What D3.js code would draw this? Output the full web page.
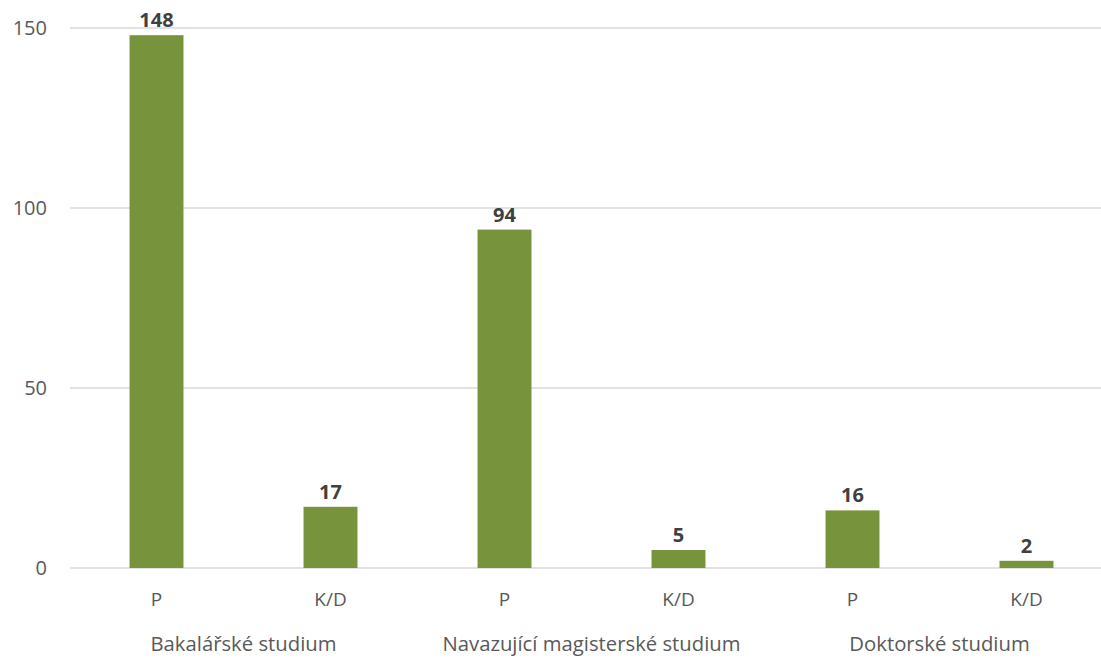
<!DOCTYPE html>
<html><head><meta charset="utf-8">
<script src="https://cdn.jsdelivr.net/npm/d3@7"></script>
<style>body{margin:0;background:#fff}</style>
</head><body>
<svg id="c" width="1101" height="658"></svg>
<script>
const groups = ["Bakalářské studium", "Navazující magisterské studium", "Doktorské studium"];
const types = ["P", "K/D"];
const values = [148, 17, 94, 5, 16, 2];
const yTicks = [0, 50, 100, 150];

const items = [];
groups.forEach((g, gi) => types.forEach((t, ti) => items.push({g, t, key: gi + "-" + ti, v: values[gi * 2 + ti]})));

const svg = d3.select("#c");
const font = "'Open Sans', sans-serif";
const x = d3.scaleBand().domain(items.map(d => d.key)).range([69.5, 1113.5]).paddingInner(0.69).paddingOuter(0.345);
const y = d3.scaleLinear().domain([0, 150]).range([568, 28]);

// gridlines
svg.append("g").selectAll("line").data(yTicks).join("line")
  .attr("x1", 70).attr("x2", 1101).attr("y1", d => y(d)).attr("y2", d => y(d))
  .attr("stroke", "#d9d9d9").attr("stroke-width", 1.3);

// y labels
svg.append("g").selectAll("text").data(yTicks).join("text")
  .attr("x", 47).attr("y", d => y(d)).attr("dy", "0.36em").attr("text-anchor", "end")
  .attr("font-family", font).attr("font-size", 20).attr("fill", "#595959").text(d => d);

// bars
svg.append("g").selectAll("rect").data(items).join("rect")
  .attr("x", d => x(d.key)).attr("width", x.bandwidth())
  .attr("y", d => y(d.v)).attr("height", d => y(0) - y(d.v)).attr("fill", "#77933c");

// data labels
svg.append("g").selectAll("text").data(items).join("text")
  .attr("x", d => x(d.key) + x.bandwidth() / 2).attr("y", d => y(d.v) - 8)
  .attr("text-anchor", "middle").attr("font-family", font).attr("font-size", 20).attr("font-weight", "bold")
  .attr("fill", "#404040").text(d => d.v);

// category labels
svg.append("g").selectAll("text").data(items).join("text")
  .attr("x", d => x(d.key) + x.bandwidth() / 2).attr("y", 606)
  .attr("text-anchor", "middle").attr("font-family", font).attr("font-size", 19)
  .attr("fill", "#595959").text(d => d.t);

// group labels
svg.append("g").selectAll("text").data(groups).join("text")
  .attr("x", (d, i) => (x(i + "-0") + x(i + "-1") + x.bandwidth()) / 2).attr("y", 651)
  .attr("text-anchor", "middle").attr("font-family", font).attr("font-size", 20.3)
  .attr("fill", "#595959").text(d => d);
</script>
</body></html>
